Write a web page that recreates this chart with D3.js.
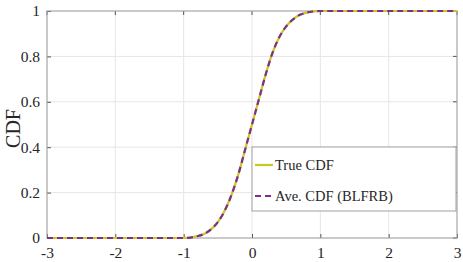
<!DOCTYPE html>
<html>
<head>
<meta charset="utf-8">
<script src="https://cdn.jsdelivr.net/npm/d3@7"></script>
<style>
  body { margin: 0; background: #fff; }
</style>
</head>
<body>
<div id="chart"></div>
<script>
const w = 463;
const h = 262;
const margin = {left: 47, right: 6, top: 11, bottom: 24};
const serif = "'Liberation Serif', 'DejaVu Serif', serif";

// values
const xValues = [-3, -1, -0.9, -0.8, -0.7, -0.6, -0.5, -0.4, -0.3, -0.2, -0.1, 0, 0.1, 0.2, 0.3, 0.4, 0.5, 0.6, 0.7, 0.8, 0.9, 1, 3];
const trueCdf = [0, 0, 0.002, 0.008, 0.018, 0.038, 0.07, 0.12, 0.19, 0.28, 0.39, 0.5, 0.61, 0.72, 0.815, 0.885, 0.932, 0.963, 0.983, 0.993, 0.998, 1, 1];
const aveCdf  = [0, 0, 0.002, 0.008, 0.018, 0.038, 0.07, 0.12, 0.19, 0.28, 0.39, 0.5, 0.61, 0.72, 0.815, 0.885, 0.932, 0.963, 0.983, 0.993, 0.998, 1, 1];
const xTicks = [-3, -2, -1, 0, 1, 2, 3];
const yTicks = [0, 0.2, 0.4, 0.6, 0.8, 1];
const seriesNames = ["True CDF", "Ave. CDF (BLFRB)"];
const seriesColors = ["#c8c81e", "#7e2f8e"];

const xScale = d3.scaleLinear().domain([-3, 3]).range([margin.left, w - margin.right]);
const yScale = d3.scaleLinear().domain([0, 1]).range([h - margin.bottom, margin.top]);

const svg = d3.select("#chart").append("svg")
    .attr("width", w)
    .attr("height", h);

// grid
svg.append("g")
    .selectAll("line")
    .data(xTicks)
    .enter().append("line")
    .attr("x1", d => xScale(d)).attr("x2", d => xScale(d))
    .attr("y1", yScale(0)).attr("y2", yScale(1))
    .attr("stroke", "#e6e6e6");
svg.append("g")
    .selectAll("line")
    .data(yTicks)
    .enter().append("line")
    .attr("x1", xScale(-3)).attr("x2", xScale(3))
    .attr("y1", d => yScale(d)).attr("y2", d => yScale(d))
    .attr("stroke", "#e6e6e6");

// axes
let fmt = d => String(d);
let xAxis = d3.axisBottom(xScale).tickValues(xTicks).tickSizeInner(-4).tickSizeOuter(0).tickPadding(9).tickFormat(fmt);
let yAxis = d3.axisLeft(yScale).tickValues(yTicks).tickSizeInner(-4).tickSizeOuter(0).tickPadding(7).tickFormat(fmt);

const gx = svg.append("g")
    .attr("transform", "translate(0," + (h - margin.bottom) + ")")
    .call(xAxis);
const gy = svg.append("g")
    .attr("transform", "translate(" + margin.left + ",0)")
    .call(yAxis);
[gx, gy].forEach(g => {
    g.attr("font-family", serif).attr("font-size", 15.5);
    g.select(".domain").remove();
    g.selectAll(".tick line").attr("stroke", "#555");
    g.selectAll("text").style("font-family", serif).attr("fill", "#262626");
});

// top / right ticks
svg.append("g").selectAll("line")
    .data(xTicks).enter().append("line")
    .attr("x1", d => xScale(d)).attr("x2", d => xScale(d))
    .attr("y1", yScale(1)).attr("y2", yScale(1) + 4)
    .attr("stroke", "#555");
svg.append("g").selectAll("line")
    .data(yTicks).enter().append("line")
    .attr("x1", xScale(3)).attr("x2", xScale(3) - 4)
    .attr("y1", d => yScale(d)).attr("y2", d => yScale(d))
    .attr("stroke", "#555");

// box
svg.append("rect")
    .attr("x", xScale(-3)).attr("y", yScale(1))
    .attr("width", xScale(3) - xScale(-3))
    .attr("height", yScale(0) - yScale(1))
    .attr("fill", "none")
    .attr("stroke", "#a0a0a0");

svg.append("text")
    .attr("transform", "translate(20," + (yScale(0.5) + 4) + ") rotate(-90)")
    .attr("text-anchor", "middle")
    .style("font-family", serif)
    .style("font-size", "20px")
    .attr("fill", "#262626")
    .text("CDF");

const line = d3.line()
    .x(d => xScale(d[0]))
    .y(d => yScale(d[1]))
    .curve(d3.curveMonotoneX);

svg.append("path")
    .datum(xValues.map((x, i) => [x, trueCdf[i]]))
    .attr("d", line)
    .attr("fill", "none")
    .attr("stroke", seriesColors[0])
    .attr("stroke-width", 2.2);

svg.append("path")
    .datum(xValues.map((x, i) => [x, aveCdf[i]]))
    .attr("d", line)
    .attr("fill", "none")
    .attr("stroke", seriesColors[1])
    .attr("stroke-width", 2.2)
    .attr("stroke-dasharray", "6,4");

// legend
const legend = svg.append("g").attr("transform", "translate(252,147)");
legend.append("rect")
    .attr("width", 204).attr("height", 64)
    .attr("fill", "#fff")
    .attr("stroke", "#a0a0a0");
seriesNames.forEach((name, i) => {
    let y = 18 + i * 31;
    legend.append("line")
        .attr("x1", 3).attr("x2", 21)
        .attr("y1", y).attr("y2", y)
        .attr("stroke", seriesColors[i])
        .attr("stroke-width", 2.2)
        .attr("stroke-dasharray", i == 1 ? "6,4" : null);
    legend.append("text")
        .attr("x", 23).attr("y", y + 5)
        .style("font-family", serif)
        .style("font-size", "14.5px")
        .attr("fill", "#262626")
        .text(name);
});
</script>
</body>
</html>
